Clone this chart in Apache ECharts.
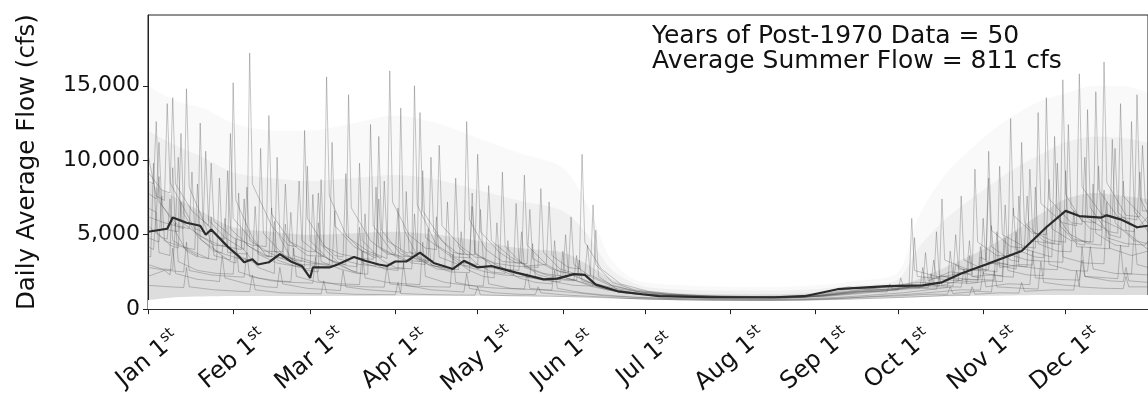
<!DOCTYPE html>
<html>
<head>
<meta charset="utf-8">
<title>Daily Average Flow</title>
<script src="https://cdn.jsdelivr.net/npm/echarts@6/dist/echarts.min.js"></script>
<style>
  html, body { margin: 0; padding: 0; background: #fff; }
  #chart { width: 1148px; height: 398px; }
</style>
</head>
<body>
<div id="chart"></div>
<script>
// month ticks (day of year) and labels
var monthStarts = [0, 31, 59, 90, 120, 151, 181, 212, 243, 273, 304, 334];
var monthNames = ["Jan", "Feb", "Mar", "Apr", "May", "Jun", "Jul", "Aug", "Sep", "Oct", "Nov", "Dec"];
var yTicks = [0, 5000, 10000, 15000];

// mean daily flow across years [day, cfs]
var meanFlow = [[0,5200],[7,5400],[9,6150],[14,5800],[19,5600],[21,5000],[23,5350],[29,4200],[33,3550],[35,3150],[38,3350],[40,3000],[44,3150],[48,3700],[52,3200],[56,2900],[59,2100],[60,2800],[66,2800],[69,3000],[75,3500],[79,3250],[84,3000],[87,2900],[90,3200],[94,3200],[99,3800],[104,3100],[111,2700],[115,3250],[120,2800],[125,2900],[134,2450],[144,2000],[149,2050],[155,2350],[159,2300],[163,1650],[171,1200],[180,1000],[186,870],[204,800],[228,800],[239,870],[251,1340],[269,1550],[282,1600],[289,1800],[296,2400],[305,3000],[318,3900],[327,5500],[334,6600],[339,6250],[347,6150],[349,6300],[354,6030],[360,5500],[364,5600]];

// envelope of the bundle of yearly traces
var hazeDays = [0,10,20,31,45,59,75,90,105,120,135,151,160,168,175,181,195,212,228,243,258,273,280,290,304,315,325,334,345,355,364];
var hazeLow  = [600,800,850,880,880,880,880,900,900,900,880,850,830,800,720,650,600,580,570,600,680,760,800,860,900,920,950,950,950,950,950];
var hazeCore = [8500,7500,6500,5500,5200,5000,5100,5200,5000,4600,4100,3800,3000,2100,1500,1250,1050,1000,1000,1100,1300,1600,2000,2800,4000,5200,6400,7400,7800,7600,7400];
var hazeMid  = [12000,11000,10200,9200,8800,8600,8800,9000,8700,8000,7300,6600,5000,2800,1900,1500,1300,1250,1250,1350,1600,2000,4000,6000,8000,9400,10400,11200,11600,11500,11200];
var hazeHigh = [15000,14000,13500,12500,12000,12000,12500,13000,12500,11500,10500,9500,7000,3500,2200,1800,1600,1500,1500,1600,1900,2500,6000,9000,11500,13000,14000,14500,15000,15000,14500];

// individual years [day, cfs]
var year1 = [[0,4200],[2,4000],[3,6500],[4,3800],[8,3600],[9,9500],[10,5200],[14,3900],[18,3500],[19,12500],[20,6000],[24,4000],[30,3200],[32,3100],[33,7800],[34,4200],[40,2800],[46,2400],[47,10200],[48,4800],[53,3100],[58,2600],[62,2500],[63,8700],[64,4100],[70,3000],[75,2500],[78,2400],[79,6400],[80,3300],[86,2700],[91,2600],[92,13500],[93,5400],[98,3600],[104,2900],[108,2800],[109,7200],[110,3500],[117,2600],[122,2200],[126,2100],[127,5800],[128,2900],[135,2100],[141,1800],[147,1700],[148,4600],[149,2300],[156,1900],[162,1500],[170,1200],[180,950],[195,800],[210,720],[225,700],[240,820],[252,1100],[265,1300],[275,1400],[286,1700],[287,5200],[288,2300],[296,1900],[302,1800],[303,3500],[305,3300],[306,8800],[307,4200],[314,3300],[317,3200],[318,11200],[319,5800],[326,4600],[330,4400],[331,9800],[332,5600],[338,4400],[341,4300],[342,13400],[343,6800],[350,5000],[354,4800],[355,8600],[356,5200],[362,4300],[364,4000]];
var year2 = [[0,7800],[3,7400],[4,11200],[5,7000],[10,5600],[13,5400],[14,14800],[15,8200],[20,6000],[26,4800],[28,4700],[29,9300],[30,5400],[37,4200],[42,3600],[44,3500],[45,6800],[46,3900],[53,3300],[56,3200],[57,12000],[58,6100],[64,4300],[68,3600],[71,3500],[72,9100],[73,4800],[80,3900],[87,3400],[88,16000],[89,7200],[95,5000],[101,4100],[105,4000],[106,11000],[107,5600],[114,4200],[119,3500],[123,3400],[124,8300],[125,4600],[132,3500],[138,2900],[145,3000],[146,7200],[147,3600],[153,2800],[157,2700],[158,10400],[159,4500],[165,2700],[172,1700],[182,1200],[196,950],[212,820],[228,800],[242,950],[255,1500],[262,1350],[278,1600],[279,4800],[280,2200],[290,2000],[295,1900],[296,7600],[297,3300],[305,2600],[309,2500],[310,9600],[311,5000],[319,4200],[323,4100],[324,13200],[325,7100],[333,5800],[338,5600],[339,15800],[340,8200],[347,6400],[351,6200],[352,10800],[353,6500],[360,5400],[364,6200]];
var year3 = [[0,2200],[6,2600],[8,2300],[9,4100],[10,2400],[18,2000],[24,1900],[26,1850],[27,3600],[28,2100],[36,1700],[43,1500],[47,1450],[48,2800],[49,1700],[58,1400],[66,1300],[70,1250],[71,2600],[72,1500],[80,1300],[88,1200],[92,1150],[93,3100],[94,1600],[103,1300],[111,1200],[115,1150],[116,2400],[117,1400],[126,1100],[135,1000],[141,980],[142,1500],[143,1100],[152,950],[162,850],[175,720],[190,640],[205,600],[220,580],[235,600],[250,700],[262,820],[274,900],[284,1000],[291,1000],[292,1500],[293,1050],[302,1200],[307,1150],[308,2600],[309,1500],[318,1400],[324,1350],[325,3200],[326,1800],[334,1600],[339,1550],[340,4200],[341,2200],[350,1900],[355,1850],[356,2800],[357,1900],[364,1800]];
var year4 = [[0,3600],[1,3500],[2,9800],[3,5200],[8,4300],[11,4100],[12,7200],[13,4100],[19,3500],[22,3400],[23,6200],[24,3600],[30,3300],[31,15200],[32,7300],[38,4800],[43,3600],[45,3500],[46,5900],[47,3300],[55,2800],[59,2700],[60,7700],[61,3900],[69,3000],[74,2600],[76,2500],[77,9800],[78,4600],[85,3300],[90,2800],[96,2700],[97,6400],[98,3400],[105,2700],[111,2600],[112,8800],[113,4200],[120,3000],[125,2500],[130,2400],[131,4600],[132,2600],[139,2100],[146,1900],[150,1850],[151,3900],[152,2100],[160,1700],[167,1300],[176,1050],[188,900],[202,830],[218,780],[232,760],[246,900],[258,1200],[270,1250],[278,1500],[284,1450],[285,2400],[286,1600],[293,1550],[294,3000],[300,2200],[303,2100],[304,6100],[305,3200],[313,2800],[316,2700],[317,7600],[318,4100],[327,3600],[329,3500],[330,11600],[331,6200],[337,4700],[343,4500],[344,8400],[345,5100],[352,4300],[357,4200],[358,12600],[359,6600],[364,5200]];
var year5 = [[0,10400],[3,7600],[6,7300],[7,13800],[8,8500],[13,6800],[17,5400],[20,5200],[21,10600],[22,6000],[28,4800],[34,4100],[35,4000],[36,8200],[37,4600],[44,3800],[50,3300],[51,3250],[52,6500],[53,3600],[61,3100],[66,3000],[67,11200],[68,5600],[75,4200],[82,3500],[83,3450],[84,7400],[85,4000],[93,3300],[99,3200],[100,9300],[101,4800],[109,3700],[115,3100],[120,3000],[121,6700],[122,3400],[130,2700],[135,2600],[136,5200],[137,2800],[145,2300],[152,2000],[156,1950],[157,3300],[158,1900],[166,1500],[174,1150],[185,980],[200,870],[215,800],[230,790],[244,860],[256,1050],[268,1250],[276,1500],[282,1480],[283,3800],[284,1900],[292,2500],[298,2400],[299,4600],[300,2700],[308,3100],[313,3000],[314,12800],[315,6300],[322,5100],[327,5000],[328,8700],[329,5400],[336,4600],[344,4500],[345,14600],[346,8000],[353,6200],[360,6000],[361,9200],[362,6600],[364,6600]];
var year6 = [[0,5600],[5,4800],[7,4700],[8,7400],[9,4600],[16,3900],[22,3400],[25,3300],[26,8800],[27,4500],[34,3500],[40,3000],[41,10800],[42,5100],[49,3700],[56,3000],[61,2950],[62,5800],[63,3200],[70,2700],[76,2400],[80,2350],[81,12400],[82,5600],[89,3800],[96,3100],[101,3000],[102,5400],[103,3000],[110,2500],[117,2450],[118,7800],[119,3800],[127,2700],[134,2200],[139,2150],[140,4400],[141,2200],[149,1800],[155,1600],[162,1550],[163,5300],[164,2200],[171,1300],[180,1000],[194,880],[208,800],[224,760],[238,780],[250,980],[261,1200],[269,1150],[270,1700],[271,1300],[281,1400],[287,1350],[288,2200],[289,1600],[297,2000],[302,1950],[303,4200],[304,2400],[311,2200],[315,2150],[316,5200],[317,2900],[325,2700],[331,2650],[332,6300],[333,3500],[341,3100],[348,3050],[349,7200],[350,4100],[358,3600],[364,3900]];
var year7 = [[0,6800],[3,6500],[4,8900],[5,5400],[11,5200],[12,11800],[13,6400],[18,4900],[24,3900],[27,3800],[28,6100],[29,3800],[36,3700],[37,17200],[38,8400],[45,5600],[51,4300],[54,4200],[55,8600],[56,4600],[63,3600],[69,3100],[72,3000],[73,14400],[74,6800],[81,4600],[87,3700],[90,3650],[91,6800],[92,3900],[99,3200],[102,3150],[103,10200],[104,5200],[111,3800],[115,3700],[116,12600],[117,6000],[123,4000],[129,3200],[136,3100],[137,9000],[138,4300],[145,3000],[150,2500],[153,2450],[154,6200],[155,3000],[161,2200],[168,1600],[178,1200],[190,1000],[204,900],[220,850],[236,870],[248,1100],[257,1400],[266,1300],[273,1280],[274,2100],[275,1500],[283,1600],[288,1550],[289,7400],[290,3300],[298,2700],[306,2650],[307,5600],[308,3200],[315,2900],[320,2850],[321,9400],[322,5200],[329,4600],[334,4500],[335,12400],[336,6800],[343,5400],[347,5300],[348,16600],[349,8500],[356,6300],[361,6200],[362,11000],[363,7200],[364,7000]];
var year8 = [[0,3000],[5,2700],[9,2650],[10,5800],[11,3200],[18,2600],[25,2400],[31,2350],[32,4700],[33,2500],[40,2100],[47,1900],[52,1850],[53,4100],[54,2200],[62,1800],[70,1700],[77,1650],[78,3900],[79,2100],[87,1800],[94,1700],[99,1650],[100,4500],[101,2200],[108,1800],[116,1600],[122,1550],[123,3300],[124,1700],[132,1400],[141,1300],[147,1280],[148,2600],[149,1400],[158,1100],[166,950],[176,820],[190,720],[206,680],[222,660],[238,690],[252,800],[264,950],[275,1100],[284,1300],[293,1500],[296,1480],[297,2700],[298,1700],[306,1900],[311,1850],[312,4800],[313,2600],[320,2300],[326,2250],[327,5600],[328,3000],[336,2600],[342,2550],[343,4200],[344,2700],[352,2400],[358,2350],[359,5400],[360,3000],[364,2800]];
var year9 = [[0,8600],[2,8400],[3,12600],[4,7200],[11,5600],[15,5400],[16,9200],[17,5200],[24,4300],[29,4200],[30,11800],[31,6100],[38,4600],[42,3900],[49,3850],[50,8400],[51,4600],[58,3600],[64,3550],[65,15600],[66,7600],[72,5000],[78,3900],[85,3450],[86,8600],[87,4600],[94,3800],[98,3750],[99,13200],[100,6600],[107,4600],[113,3700],[119,3650],[120,10400],[121,5200],[128,3800],[134,3100],[138,3050],[139,6700],[140,3400],[147,2700],[153,2400],[159,2350],[160,4300],[161,2300],[169,1600],[179,1150],[192,920],[206,840],[222,800],[236,830],[249,1000],[260,1300],[270,1550],[280,1800],[285,1780],[286,3300],[287,2100],[295,2400],[300,2350],[301,9400],[302,4500],[309,3600],[314,3550],[315,6800],[316,4000],[323,3500],[326,3450],[327,14200],[328,7400],[336,5800],[340,5700],[341,10200],[342,6100],[350,5200],[353,5100],[354,13800],[355,7600],[364,5800]];
var year10 = [[0,1600],[8,1500],[13,1450],[14,2800],[15,1500],[24,1300],[33,1200],[37,1180],[38,2300],[39,1300],[48,1100],[58,1050],[63,1030],[64,1900],[65,1100],[75,1000],[85,980],[90,970],[91,1800],[92,1050],[102,980],[112,950],[119,940],[120,1500],[121,960],[132,900],[142,880],[152,850],[164,780],[178,700],[192,640],[208,600],[224,590],[240,610],[256,680],[270,760],[282,850],[294,950],[299,940],[300,1500],[301,1000],[310,1100],[317,1080],[318,1800],[319,1200],[330,1300],[337,1280],[338,2600],[339,1500],[348,1400],[355,1380],[356,2200],[357,1500],[364,1500]];
var year11 = [[0,4800],[4,4500],[5,7600],[6,4600],[12,4200],[17,4000],[18,8400],[19,4700],[26,3800],[33,3400],[38,3300],[39,6900],[40,3700],[47,3100],[53,2900],[57,2850],[58,9600],[59,4600],[66,3300],[73,2900],[76,2850],[77,5500],[78,3100],[84,2800],[93,2700],[94,7900],[95,3900],[102,3000],[109,2700],[113,2650],[114,5200],[115,2900],[123,2500],[129,2300],[133,2250],[134,7100],[135,3300],[142,2300],[149,2000],[155,1900],[156,3600],[157,2100],[164,1500],[173,1100],[186,900],[200,820],[216,770],[232,760],[246,850],[259,1050],[272,1300],[282,1500],[291,1480],[292,3900],[293,2100],[300,2000],[308,1950],[309,5200],[310,2800],[318,3000],[322,2950],[323,8200],[324,4400],[331,3900],[336,3850],[337,6600],[338,4200],[346,4100],[350,4050],[351,11400],[352,5800],[359,4600],[364,4400]];
var year12 = [[0,6200],[6,5800],[10,5600],[11,10200],[12,5900],[19,4900],[26,4300],[34,4000],[35,7400],[36,4300],[43,3600],[49,3400],[50,5700],[51,3500],[59,3100],[67,2900],[68,6600],[69,3400],[77,3000],[83,2900],[84,11600],[85,5300],[92,3700],[100,3300],[104,3250],[105,6200],[106,3500],[113,3000],[121,2800],[128,2750],[129,9200],[130,4200],[137,2900],[144,2400],[151,2200],[152,5000],[153,2400],[161,1800],[170,1400],[183,1050],[198,900],[214,820],[230,800],[244,880],[256,1100],[266,1300],[276,1450],[281,1430],[282,2800],[283,1700],[290,1800],[298,1750],[299,3600],[300,2200],[307,2300],[311,2250],[312,7000],[313,3700],[320,3300],[328,3200],[333,3150],[334,9300],[335,5100],[342,4400],[347,4300],[348,8000],[349,4800],[356,4400],[363,4300],[364,4600]];
var year13 = [[0,9200],[5,8000],[8,7800],[9,14200],[10,8400],[16,6600],[22,5600],[23,9800],[24,5900],[31,4800],[38,4300],[43,4200],[44,13000],[45,6400],[52,4500],[58,3900],[61,3850],[62,7800],[63,4300],[70,3700],[78,3400],[82,3350],[83,8200],[84,4200],[90,3600],[96,3500],[97,15000],[98,7000],[105,4300],[112,3500],[117,3450],[118,6900],[119,3700],[126,3100],[133,2900],[142,2800],[143,8100],[144,3800],[150,2700],[157,2300],[161,2250],[162,7000],[163,3000],[169,1800],[177,1300],[189,1000],[205,880],[220,830],[234,840],[245,950],[254,1200],[262,1400],[270,1500],[277,1480],[278,6100],[279,2600],[287,2200],[293,2150],[294,5000],[295,2700],[302,2600],[305,2550],[306,10600],[307,5300],[314,4200],[319,4100],[320,7600],[321,4600],[329,4400],[332,4350],[333,15400],[334,7700],[340,5900],[345,5800],[346,9600],[347,6000],[355,5300],[359,5200],[360,14400],[361,7500],[364,6400]];
var year14 = [[0,2800],[7,2600],[13,2500],[14,4500],[15,2600],[23,2300],[30,2200],[35,2150],[36,3800],[37,2200],[45,1900],[52,1800],[60,1750],[61,3500],[62,1900],[70,1600],[79,1500],[86,1480],[87,2900],[88,1700],[96,1550],[105,1500],[110,1480],[111,3700],[112,1800],[120,1500],[128,1400],[137,1350],[138,2400],[139,1400],[147,1250],[156,1100],[166,900],[178,780],[192,700],[208,660],[224,640],[240,660],[254,750],[266,880],[277,1000],[287,1150],[296,1300],[303,1280],[304,2500],[305,1500],[313,1700],[321,1650],[322,3900],[323,2100],[331,2000],[339,1950],[340,3300],[341,2200],[349,2100],[353,2050],[354,4300],[355,2400],[364,2300]];

var years = [year1, year2, year3, year4, year5, year6, year7, year8, year9, year10, year11, year12, year13, year14];

var fontFamily = "DejaVu Sans";

function pairs(xs, ys) {
    var out = [];
    for (var i = 0; i < xs.length; i++) {
        out.push([xs[i], ys[i]]);
    }
    return out;
}

function hazeSeries(name, values, color) {
    return {
        name: name,
        type: 'line',
        data: pairs(hazeDays, values),
        symbol: 'none',
        silent: true,
        smooth: 0.3,
        lineStyle: { width: 0 },
        areaStyle: { color: color, opacity: 1 },
        z: 1
    };
}

function buildSeries() {
    var series = [];
    // bundle haze, outermost first; white floor masks below the lowest years
    series.push(hazeSeries('high', hazeHigh, 'rgba(0,0,0,0.025)'));
    series.push(hazeSeries('mid', hazeMid, 'rgba(0,0,0,0.035)'));
    series.push(hazeSeries('core', hazeCore, 'rgba(0,0,0,0.08)'));
    series.push(hazeSeries('floor', hazeLow, '#ffffff'));
    for (var i = 0; i < years.length; i++) {
        series.push({
            name: 'year' + (i + 1),
            type: 'line',
            data: years[i],
            symbol: 'none',
            silent: true,
            lineStyle: { color: 'rgba(70,70,70,0.3)', width: 1 },
            z: 2
        });
    }
    series.push({
        name: 'mean',
        type: 'line',
        data: meanFlow,
        symbol: 'none',
        lineStyle: { color: '#2b2b2b', width: 2.2 },
        z: 5
    });
    return series;
}

function fmtThousands(v) {
    return String(v).replace(/\B(?=(\d{3})+(?!\d))/g, ',');
}

function drawChart() {
    var chart = echarts.init(document.getElementById('chart'), null, { renderer: 'canvas' });
    chart.setOption({
        animation: false,
        backgroundColor: '#ffffff',
        textStyle: { fontFamily: fontFamily },
        grid: {
            left: 148, top: 15, right: -7, bottom: 87,
            show: true, borderColor: '#222', borderWidth: 1,
            backgroundColor: 'transparent'
        },
        xAxis: {
            type: 'value',
            min: 0,
            max: 364,
            splitLine: { show: false },
            axisLine: { lineStyle: { color: '#222', width: 1 } },
            axisTick: { customValues: monthStarts, length: 5, lineStyle: { color: '#222' } },
            axisLabel: {
                customValues: monthStarts,
                rotate: 40,
                align: 'center',
                verticalAlign: 'middle',
                margin: 50,
                formatter: function (v) {
                    var i = monthStarts.indexOf(v);
                    return '{m|' + monthNames[i] + ' 1}{s|st}';
                },
                rich: {
                    m: { fontSize: 24, fontFamily: fontFamily, color: '#111', lineHeight: 27 },
                    s: { fontSize: 15, fontFamily: fontFamily, color: '#111', verticalAlign: 'top', lineHeight: 27, padding: [0, 0, 10, 0] }
                }
            }
        },
        yAxis: {
            type: 'value',
            min: 0,
            max: 19750,
            name: 'Daily Average Flow (cfs)',
            nameLocation: 'middle',
            nameGap: 108,
            nameTextStyle: { fontSize: 24.5, fontFamily: fontFamily, color: '#111' },
            splitLine: { show: false },
            axisLine: { show: true, lineStyle: { color: '#222', width: 1 } },
            axisTick: { show: true, customValues: yTicks, length: 5, lineStyle: { color: '#222' } },
            axisLabel: {
                customValues: yTicks,
                fontSize: 22,
                color: '#111',
                margin: 8,
                formatter: function (v) { return fmtThousands(v); }
            }
        },
        graphic: [{
            type: 'text',
            left: 652,
            top: 24,
            z: 10,
            style: {
                text: 'Years of Post-1970 Data = 50\nAverage Summer Flow = 811 cfs',
                font: '25px "DejaVu Sans"',
                lineHeight: 24.5,
                fill: '#111'
            }
        }],
        series: buildSeries()
    });

    window.addEventListener('resize', function () {
        chart.resize();
    });
}

drawChart();
</script>
</body>
</html>
